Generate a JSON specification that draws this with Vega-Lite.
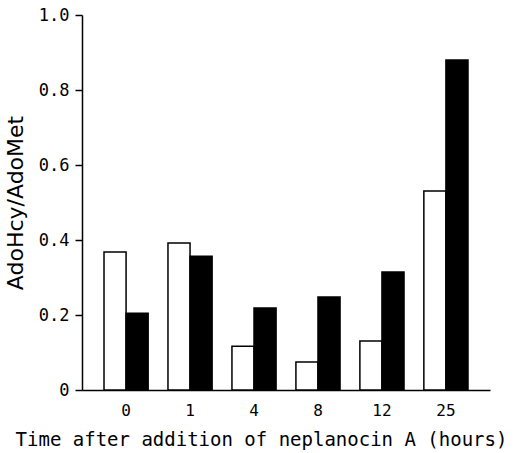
{
  "$schema": "https://vega.github.io/schema/vega-lite/v6.json",
  "width": 408,
  "height": 375,
  "autosize": {"type": "none"},
  "padding": {"left": 82, "top": 15, "right": 30, "bottom": 63},
  "background": "white",
  "config": {"view": {"stroke": null}},
  "data": {
    "values": [
      {"time": "0", "series": "a", "ratio": 0.368},
      {"time": "0", "series": "b", "ratio": 0.205},
      {"time": "1", "series": "a", "ratio": 0.392},
      {"time": "1", "series": "b", "ratio": 0.357},
      {"time": "4", "series": "a", "ratio": 0.117},
      {"time": "4", "series": "b", "ratio": 0.219},
      {"time": "8", "series": "a", "ratio": 0.075},
      {"time": "8", "series": "b", "ratio": 0.248},
      {"time": "12", "series": "a", "ratio": 0.131},
      {"time": "12", "series": "b", "ratio": 0.315},
      {"time": "25", "series": "a", "ratio": 0.531},
      {"time": "25", "series": "b", "ratio": 0.88}
    ]
  },
  "mark": {"type": "bar", "stroke": "black", "strokeWidth": 1.5},
  "encoding": {
    "x": {
      "field": "time",
      "type": "nominal",
      "sort": ["0", "1", "4", "8", "12", "25"],
      "scale": {"paddingInner": 0.31, "paddingOuter": 0.344},
      "axis": {
        "title": "Time after addition of neplanocin A (hours)",
        "titleFont": "DejaVu Sans Mono",
        "titleFontSize": 19,
        "titleFontWeight": "normal",
        "titleColor": "black",
        "titleX": 179,
        "titleAlign": "center",
        "titlePadding": 12,
        "labelFont": "DejaVu Sans Mono",
        "labelFontSize": 16,
        "labelColor": "black",
        "labelAngle": 0,
        "labelPadding": 12,
        "ticks": false,
        "domainColor": "black",
        "domainWidth": 1.5
      }
    },
    "xOffset": {"field": "series", "type": "nominal", "scale": {"paddingInner": 0, "paddingOuter": 0}},
    "y": {
      "field": "ratio",
      "type": "quantitative",
      "scale": {"domain": [0, 1]},
      "axis": {
        "title": "AdoHcy/AdoMet",
        "titleFont": "DejaVu Sans",
        "titleFontSize": 22,
        "titleFontWeight": "normal",
        "titleColor": "black",
        "titlePadding": 11,
        "values": [0, 0.2, 0.4, 0.6, 0.8, 1.0],
        "labelExpr": "datum.value == 0 ? '0' : format(datum.value, '.1f')",
        "labelFont": "DejaVu Sans Mono",
        "labelFontSize": 17,
        "labelColor": "black",
        "labelPadding": 6,
        "tickSize": 7,
        "tickColor": "black",
        "tickWidth": 1.5,
        "domainColor": "black",
        "domainWidth": 1.5,
        "grid": false
      }
    },
    "fill": {
      "field": "series",
      "type": "nominal",
      "scale": {"domain": ["a", "b"], "range": ["white", "black"]},
      "legend": null
    }
  }
}
